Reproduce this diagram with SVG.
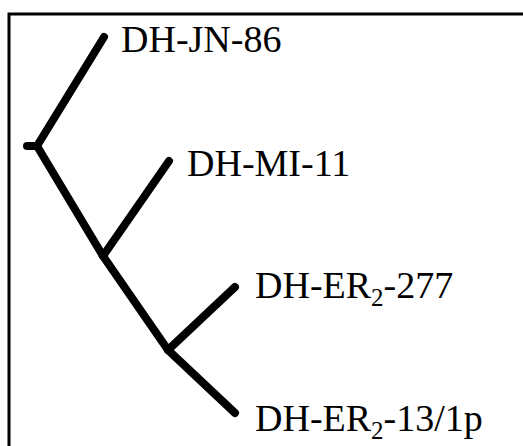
<svg xmlns="http://www.w3.org/2000/svg" width="523" height="446" viewBox="0 0 523 446">
<style>
.frame{fill:none;stroke:#000;stroke-width:3}
.br{fill:none;stroke:#000;stroke-width:8;stroke-linecap:round;stroke-linejoin:round}
.lbl{font-family:'Liberation Serif',serif;font-size:38px;fill:#000}
.sub{font-size:25px}
</style>
<rect class="frame" x="9" y="14" width="530" height="450"/>
<g id="connectors">
<path class="br" d="M27 146 L37 146"/>
<path class="br" d="M37 146 L104 37"/>
<path class="br" d="M37 146 L103 256"/>
<path class="br" d="M103 256 L169 161"/>
<path class="br" d="M103 256 L168 350"/>
<path class="br" d="M168 350 L235 287"/>
<path class="br" d="M168 350 L235 413"/>
</g>
<g id="n1"><text class="lbl" font-family="Liberation Serif" x="121" y="52">DH-JN-86</text></g>
<g id="n2"><text class="lbl" font-family="Liberation Serif" x="187" y="176">DH-MI-11</text></g>
<g id="n3"><text class="lbl" font-family="Liberation Serif" x="255" y="298">DH-ER<tspan class="sub" dy="8">2</tspan><tspan dy="-8">-277</tspan></text></g>
<g id="n4"><text class="lbl" font-family="Liberation Serif" x="255" y="431">DH-ER<tspan class="sub" dy="8">2</tspan><tspan dy="-8">-13/1p</tspan></text></g>
</svg>
